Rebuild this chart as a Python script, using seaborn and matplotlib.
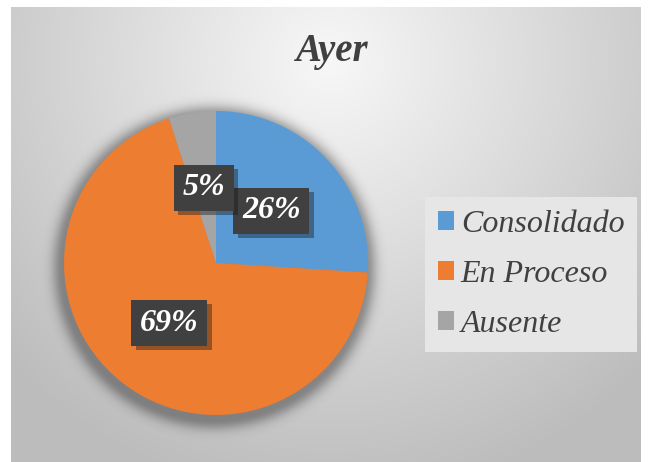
import numpy as np
import matplotlib
matplotlib.use("Agg")
import matplotlib.pyplot as plt
import matplotlib.patheffects as pe
import seaborn as sns

# ---- data ----
categories = ["Consolidado", "En Proceso", "Ausente"]
values = [26, 69, 5]
colors = ["#5B9BD5", "#ED7D31", "#A5A5A5"]
title = "Ayer"

sns.set_theme(style="white")
plt.rcParams["font.family"] = ["Liberation Serif", "DejaVu Serif"]

W, H = 652, 462
fig = plt.figure(figsize=(W / 100, H / 100), dpi=100)
fig.patch.set_facecolor("white")

# ---- chart-area background gradient ----
x0, x1, y0, y1 = 11, 641, 7, 462
bg = fig.add_axes([x0 / W, 1 - y1 / H, (x1 - x0) / W, (y1 - y0) / H], zorder=0)
gx, gy = np.meshgrid(np.linspace(x0, x1, 300), np.linspace(y0, y1, 220))
d = np.sqrt(((gx - 330) / 420) ** 2 + ((gy - 60) / 420) ** 2)
val = np.clip(0.97 - 0.22 * d, 0.74, 0.97)
bg.imshow(np.dstack([val, val, val]), aspect="auto", extent=(0, 1, 0, 1), origin="upper")
bg.set_axis_off()

# ---- pie ----
cx, cy, R = 216, 263, 152
L = 1.3
ax = fig.add_axes([(cx - L * R) / W, (H - cy - L * R) / H, 2 * L * R / W, 2 * L * R / H], zorder=1)
ax.set_facecolor("none")

# soft shadow
sx, sy = np.meshgrid(np.linspace(-L, L, 400), np.linspace(-L, L, 400))
rr = np.sqrt((sx + 0.01) ** 2 + (sy + 0.03) ** 2)
alpha = np.where(rr < 1.0, 0.35, 0.35 * np.exp(-((rr - 1.0) / 0.07) ** 2))
sh = np.zeros((400, 400, 4))
sh[..., 3] = alpha
ax.imshow(sh, extent=(-L, L, -L, L), origin="lower", zorder=0)

wedges, texts, autotexts = ax.pie(
    values, colors=colors, startangle=90, counterclock=False,
    autopct=lambda p: f"{p:.0f}%", pctdistance=0.5,
    wedgeprops=dict(linewidth=0), textprops=dict(zorder=5),
)
for w in wedges:
    w.set_zorder(2)
for t in autotexts:
    t.set_color("white")
    t.set_fontsize(23)
    t.set_fontweight("bold")
    t.set_fontstyle("italic")
    t.set_bbox(dict(boxstyle="square,pad=0.27", facecolor="#404040", edgecolor="none"))
    t.get_bbox_patch().set_path_effects(
        [pe.SimplePatchShadow(offset=(3, -3), alpha=0.4), pe.Normal()])
ax.set_xlim(-L, L)
ax.set_ylim(-L, L)
ax.set_aspect("equal")
ax.set_axis_off()

# ---- title ----
fig.text(331 / W, 1 - 52 / H, title, ha="center", va="center", fontsize=28,
         fontweight="bold", fontstyle="italic", color="#404040", zorder=3)

# ---- legend ----
leg = fig.legend(
    wedges, categories, loc="upper left",
    bbox_to_anchor=(425 / W, 1 - 197 / H), bbox_transform=fig.transFigure,
    prop=dict(family="Liberation Serif", style="italic", size=23),
    handlelength=0.52, handleheight=0.52, handletextpad=0.2,
    labelspacing=0.66, borderpad=0.4, borderaxespad=0,
    frameon=True, fancybox=False, facecolor="#e6e6e6", edgecolor="none", framealpha=1,
)
for t in leg.get_texts():
    t.set_color("#404040")
leg.set_zorder(4)

fig.savefig("out.png", dpi=100, facecolor="white")
